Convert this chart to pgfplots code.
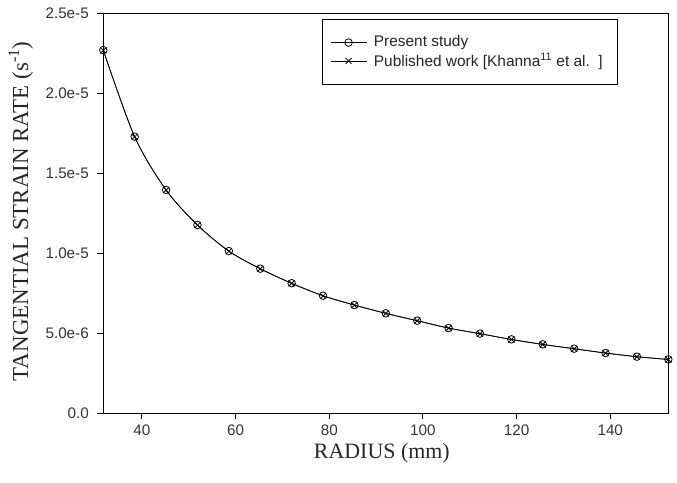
\documentclass[border=0pt]{standalone}
\usepackage{pgfplots}
\pgfplotsset{compat=1.18}
\usepackage{fontspec}
\setmainfont{Liberation Serif}
\newfontfamily\arial{Liberation Sans}
\begin{document}
\begin{tikzpicture}[x=1bp,y=1bp]
\path[use as bounding box] (0,0) rectangle (677,483);
\begin{axis}[
  at={(103.3bp,69.7bp)}, anchor=south west,
  scale only axis, width=565bp, height=400bp,
  xmin=31.75, xmax=152.4, ymin=0, ymax=2.5e-5,
  xtick={40,60,80,100,120,140},
  ytick={0,5e-6,1e-5,1.5e-5,2e-5,2.5e-5},
  yticklabels={0.0,5.0e-6,1.0e-5,1.5e-5,2.0e-5,2.5e-5},
  scaled y ticks=false,
  tick align=outside, xtick pos=bottom, ytick pos=left,
  major tick length=6bp,
  tick style={line width=1pt, black},
  axis line style={line width=1.1pt},
  ticklabel style={font=\arial\fontsize{15.3}{17}\selectfont, text=black!80},
  yticklabel style={xshift=-5bp},
  xticklabel style={yshift=-2bp},
  /pgf/number format/assume math mode=true,
  xlabel={RADIUS (mm)}, ylabel={TANGENTIAL STRAIN RATE (s\textsuperscript{-1})},
  label style={text=black!85},
  xlabel style={font=\fontsize{22}{25}\selectfont, at={(axis description cs:0.493,-0.101)}, anchor=center},
  ylabel style={font=\fontsize{23}{26}\selectfont, at={(axis description cs:-0.146,0.505)}, anchor=center},
  legend cell align=left,
  legend style={at={(0.3866,0.985)}, anchor=north west, draw=black, line width=0.9pt,
    font=\arial\fontsize{15.5}{17}\selectfont, text=black!85, inner xsep=8bp, inner ysep=14bp, row sep=0bp,
    nodes={inner xsep=7bp, text depth=0.25em},
    row 2/.style={nodes={text depth=10bp}}},
  legend image code/.code={\draw[mark repeat=2,mark phase=2,#1] plot coordinates {(0bp,0bp) (18bp,0bp) (36bp,0bp)};},
  legend image post style={line width=0.7pt},
]
\addplot[black, line width=0.7pt, smooth, mark=o, mark size=3.8pt, mark options={line width=0.8pt}] coordinates {
(31.75,22.70e-6) (38.45,17.29e-6) (45.16,13.96e-6) (51.86,11.77e-6) (58.56,10.14e-6)
(65.26,9.04e-6) (71.97,8.13e-6) (78.67,7.35e-6) (85.37,6.77e-6) (92.08,6.25e-6)
(98.78,5.79e-6) (105.48,5.33e-6) (112.18,4.98e-6) (118.89,4.62e-6) (125.59,4.31e-6)
(132.29,4.04e-6) (139.00,3.77e-6) (145.70,3.54e-6) (152.40,3.37e-6)};
\addlegendentry{Present study}
\addplot[black, line width=0.7pt, smooth, mark=x, mark size=4.2pt, mark options={line width=0.8pt}] coordinates {
(31.75,22.68e-6) (38.45,17.27e-6) (45.16,13.95e-6) (51.86,11.76e-6) (58.56,10.13e-6)
(65.26,9.03e-6) (71.97,8.12e-6) (78.67,7.34e-6) (85.37,6.76e-6) (92.08,6.24e-6)
(98.78,5.78e-6) (105.48,5.32e-6) (112.18,4.97e-6) (118.89,4.61e-6) (125.59,4.30e-6)
(132.29,4.03e-6) (139.00,3.76e-6) (145.70,3.53e-6) (152.40,3.36e-6)};
\addlegendentry{Published work [Khanna\textsuperscript{11} et al.\ \ ]}
\end{axis}
\end{tikzpicture}
\end{document}
